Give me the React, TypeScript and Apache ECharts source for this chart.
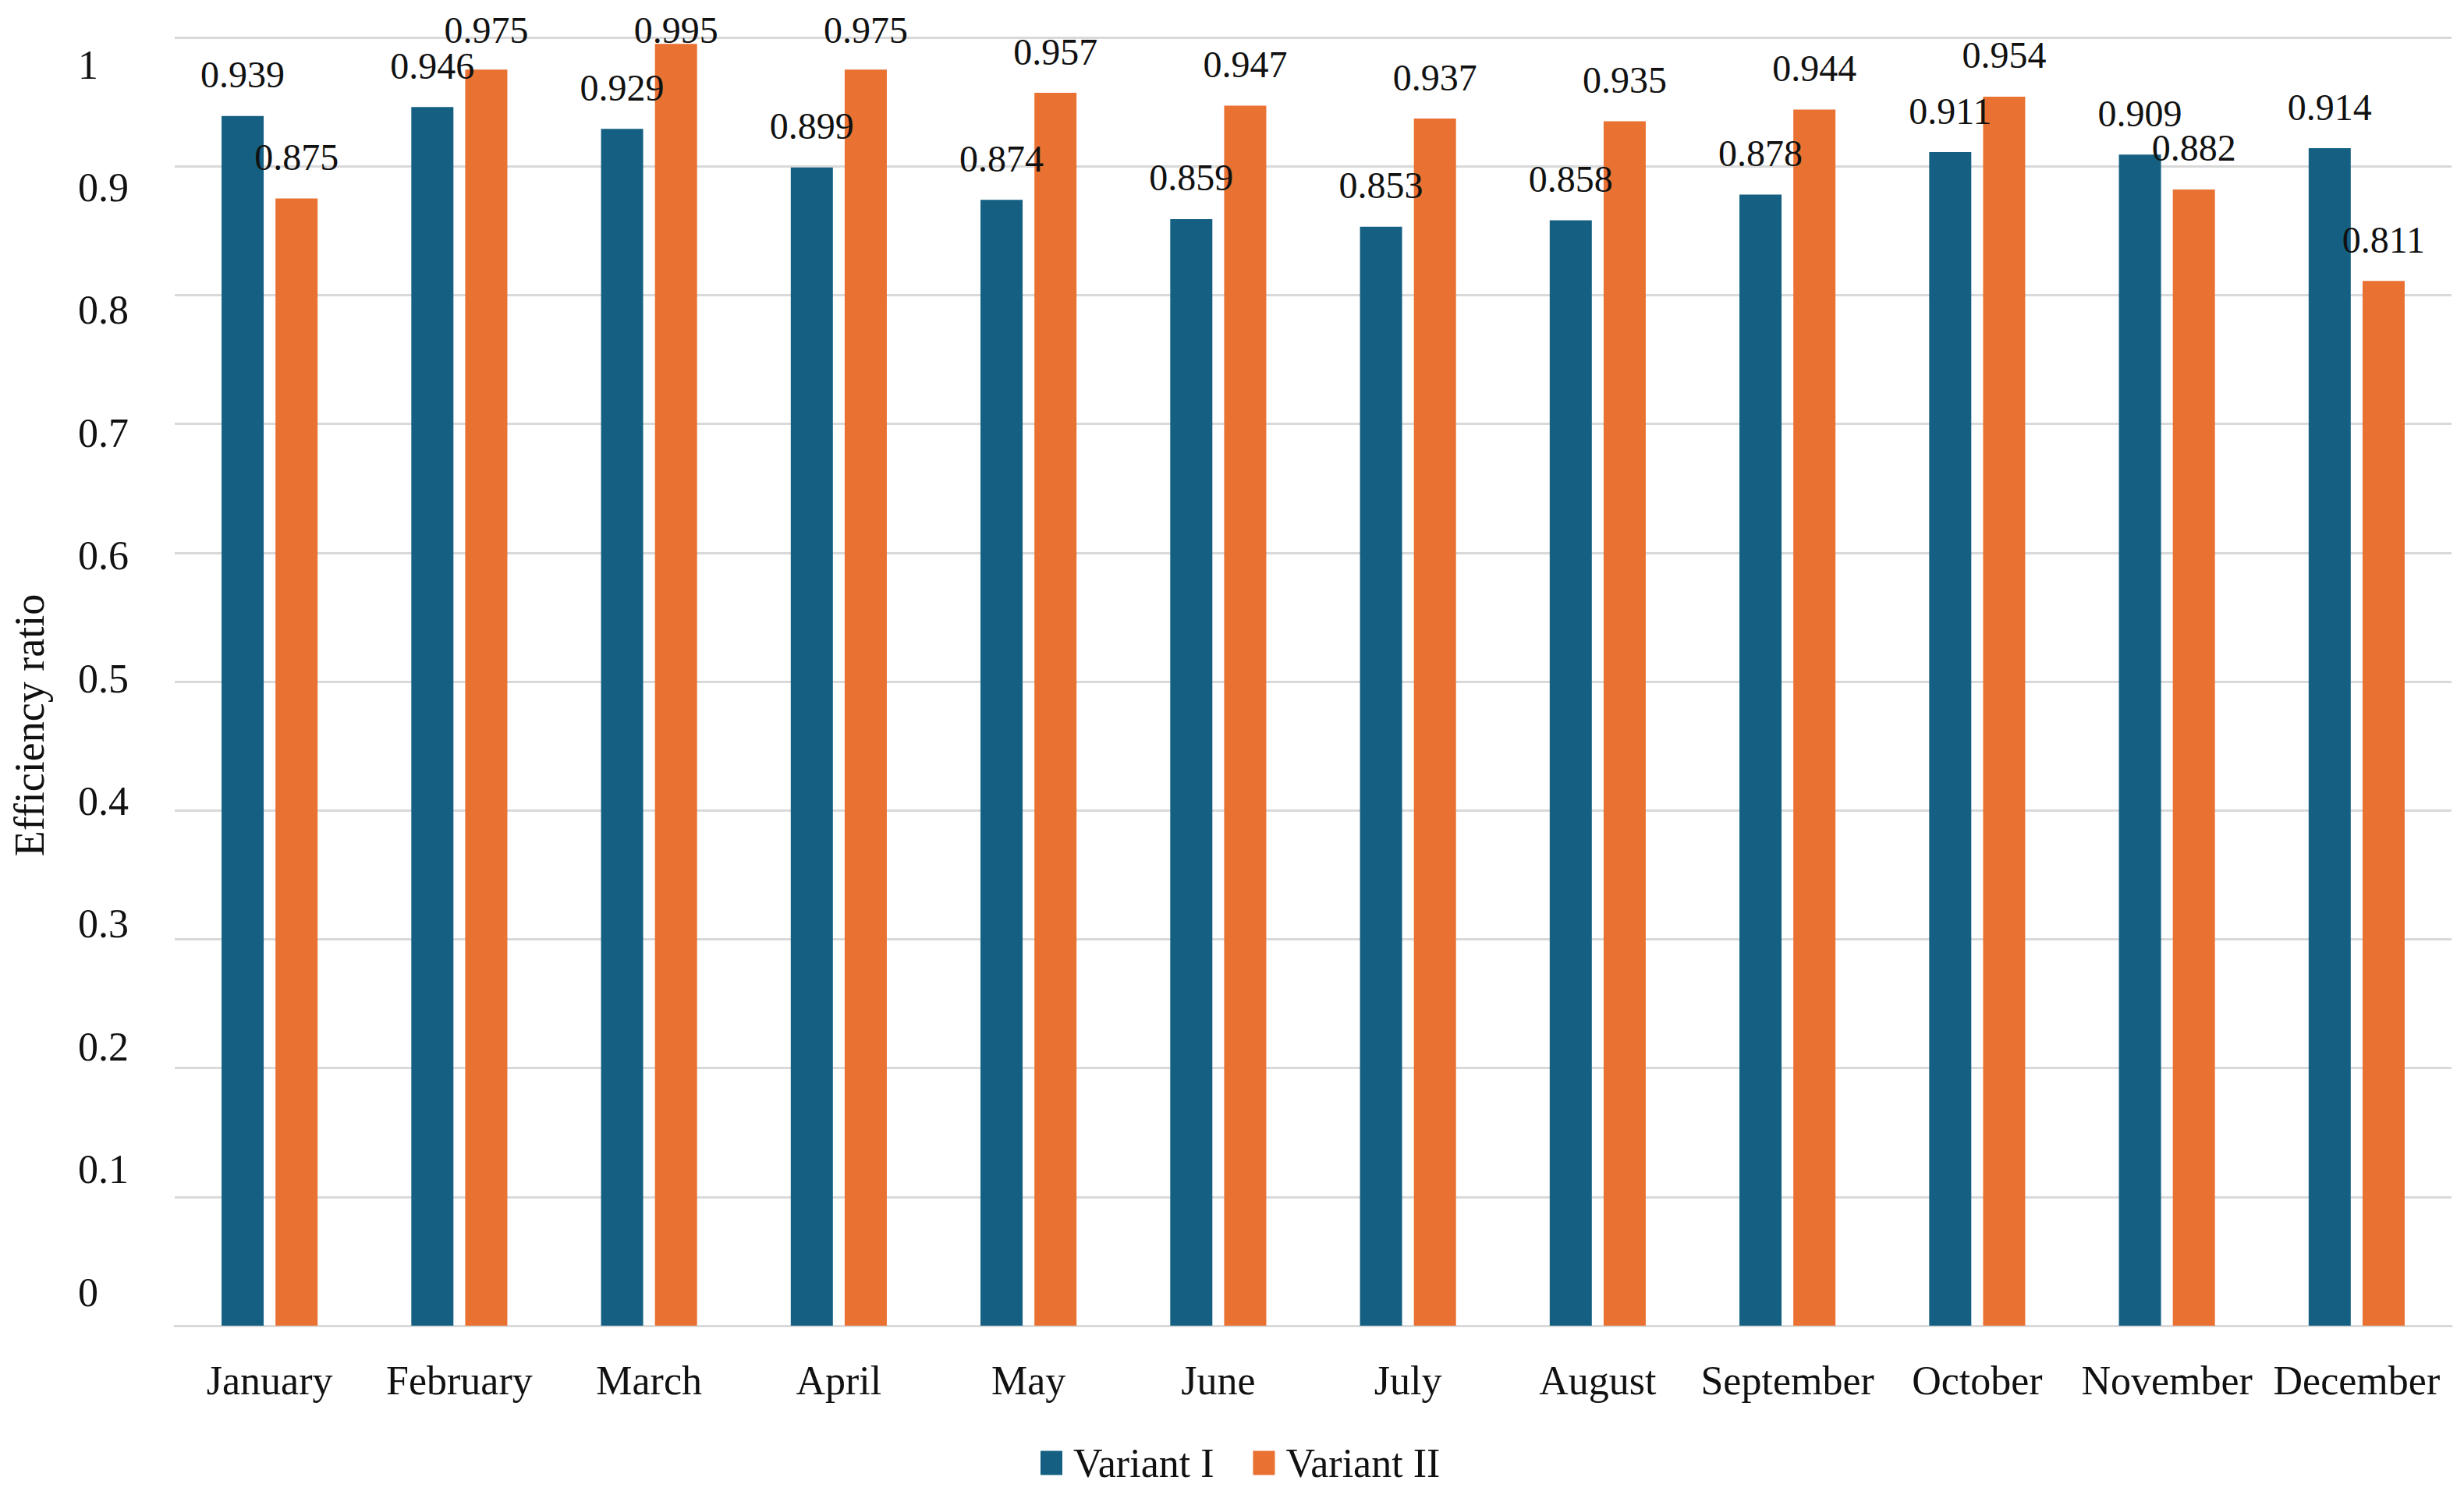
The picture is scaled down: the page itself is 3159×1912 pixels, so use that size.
import React, { useEffect, useRef } from "react";
import * as echarts from "echarts";

const months = ["January", "February", "March", "April", "May", "June", "July", "August", "September", "October", "November", "December"];
const variantI = [0.939, 0.946, 0.929, 0.899, 0.874, 0.859, 0.853, 0.858, 0.878, 0.911, 0.909, 0.914];
const variantII = [0.875, 0.975, 0.995, 0.975, 0.957, 0.947, 0.937, 0.935, 0.944, 0.954, 0.882, 0.811];
const yTickLabels = ["0", "0.1", "0.2", "0.3", "0.4", "0.5", "0.6", "0.7", "0.8", "0.9", "1"];
const seriesNames = ["Variant I", "Variant II"];
const yTitle = "Efficiency ratio";

const FONT = "'Liberation Serif', 'Times New Roman', serif";
const TEXT = "#111111";
const GRID = "#D9D9D9";

export default function App() {
  const ref = useRef<HTMLDivElement>(null);
  useEffect(() => {
    if (!ref.current) return;
    const chart = echarts.init(ref.current, undefined, { renderer: "svg" });
    const labelCfg = {
      show: true,
      position: "top",
      distance: 29,
      fontFamily: FONT,
      fontSize: 48,
      lineHeight: 48,
      color: TEXT,
      formatter: (p: any) => Number(p.value).toFixed(3),
    };
    const minLabelTop = 14;
    const labelLayout = (p: any) => {
      const r = p.labelRect || { y: minLabelTop };
      return { dy: Math.max(0, minLabelTop - r.y) };
    };
    chart.setOption({
      animation: false,
      backgroundColor: "#ffffff",
      color: ["#156082", "#E97132"],
      grid: [
        { left: 224, top: 48, width: 2919, height: 1652 },
        { left: 224, top: 83, width: 2919, height: 1574 },
      ],
      legend: {
        left: 1334,
        top: 1850,
        padding: 0,
        itemWidth: 28,
        itemHeight: 31,
        itemGap: 50,
        icon: "rect",
        textStyle: { fontFamily: FONT, fontSize: 52, lineHeight: 52, color: TEXT, padding: [0, 0, 0, 9] },
        data: seriesNames,
      },
      xAxis: [
        {
          type: "category",
          gridIndex: 0,
          data: months,
          axisLine: { show: true, lineStyle: { color: GRID, width: 3 } },
          axisTick: { show: false },
          axisLabel: { fontFamily: FONT, fontSize: 52, color: TEXT, margin: 44, interval: 0 },
        },
        { type: "category", gridIndex: 1, data: months, show: false },
      ],
      yAxis: [
        {
          type: "value",
          gridIndex: 0,
          min: 0,
          max: 1,
          interval: 0.1,
          axisLabel: { show: false },
          axisLine: { show: false },
          axisTick: { show: false },
          splitLine: { show: true, lineStyle: { color: GRID, width: 3 } },
        },
        {
          type: "value",
          gridIndex: 1,
          min: 0,
          max: 1,
          interval: 0.1,
          axisLine: { show: false },
          axisTick: { show: false },
          splitLine: { show: false },
          axisLabel: {
            align: "left",
            margin: 124,
            fontFamily: FONT,
            fontSize: 52,
            color: TEXT,
            formatter: (_v: number, i: number) => yTickLabels[i],
          },
        },
      ],
      graphic: [
        {
          type: "text",
          x: 38,
          y: 930,
          rotation: Math.PI / 2,
          style: {
            text: yTitle,
            fontFamily: FONT,
            fontSize: 54,
            fill: TEXT,
            textAlign: "center",
            textVerticalAlign: "middle",
          },
        },
      ],
      series: [
        {
          name: seriesNames[0],
          type: "bar",
          xAxisIndex: 0,
          yAxisIndex: 0,
          data: variantI,
          barWidth: 54,
          barGap: "28%",
          label: labelCfg,
          labelLayout,
        },
        {
          name: seriesNames[1],
          type: "bar",
          xAxisIndex: 0,
          yAxisIndex: 0,
          data: variantII,
          barWidth: 54,
          barGap: "28%",
          label: labelCfg,
          labelLayout,
        },
      ],
    });
    return () => chart.dispose();
  }, []);
  return <div ref={ref} style={{ position: "absolute", left: 0, top: 0, width: 3159, height: 1912 }} />;
}
